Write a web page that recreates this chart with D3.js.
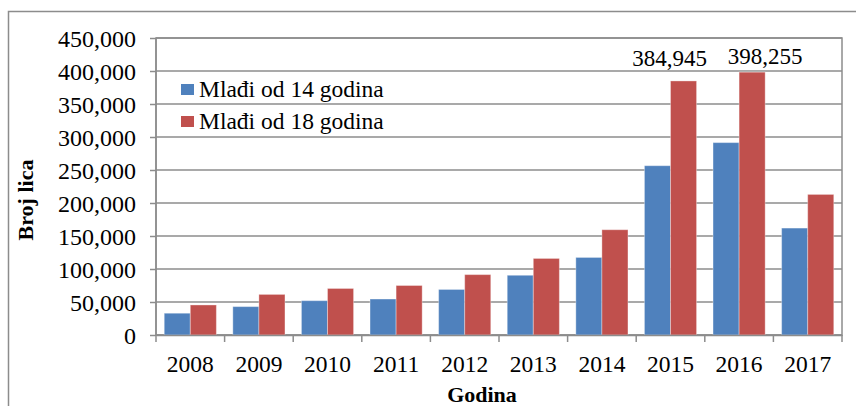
<!DOCTYPE html>
<html>
<head>
<meta charset="utf-8">
<script src="https://cdn.jsdelivr.net/npm/d3@7"></script>
<style>
  body { margin: 0; background: #fff; }
</style>
</head>
<body>
<div id="chart"></div>
<script>
var years = ["2008", "2009", "2010", "2011", "2012", "2013", "2014", "2015", "2016", "2017"];
var under14 = [33000, 43000, 52000, 54500, 69000, 90500, 117500, 256500, 291500, 162000];
var under18 = [45500, 61500, 70500, 75000, 91500, 116000, 159500, 384945, 398255, 213000];
var seriesNames = ["Mlađi od 14 godina", "Mlađi od 18 godina"];
var seriesColors = ["#4F81BD", "#C0504D"];
var yTicks = [0, 50000, 100000, 150000, 200000, 250000, 300000, 350000, 400000, 450000];
var labelledYears = ["2015", "2016"];

var FONT = "'Liberation Serif', 'Times New Roman', serif";
var width = 856, height = 406;
var margin = {top: 38, right: 14, bottom: 71, left: 156};
var innerW = width - margin.left - margin.right;
var innerH = height - margin.top - margin.bottom;

var svg = d3.select("#chart").append("svg")
    .attr("width", width)
    .attr("height", height)
    .attr("font-family", FONT);

// outer chart frame (cut off on right and bottom)
svg.append("rect")
    .attr("x", 8.5).attr("y", 11.5)
    .attr("width", width + 20).attr("height", height + 20)
    .style("fill", "none")
    .style("stroke", "#8c8c8c")
    .style("stroke-width", 1.5);

var g = svg.append("g").attr("transform", "translate(" + margin.left + "," + margin.top + ")");

var x = d3.scaleBand().domain(years).range([0, innerW]).paddingInner(0.24).paddingOuter(0.12);
var x1 = d3.scaleBand().domain([0, 1]).range([0, x.bandwidth()]);
var y = d3.scaleLinear().domain([0, 450000]).range([innerH, 0]);

var fmt = d3.format(",");

// gridlines
g.selectAll("line.grid")
    .data(yTicks)
    .enter().append("line")
    .attr("class", "grid")
    .attr("x1", 0).attr("x2", innerW)
    .attr("y1", function(d) { return y(d); })
    .attr("y2", function(d) { return y(d); })
    .style("stroke", "#8c8c8c")
    .style("stroke-width", 1.5);

// plot area border
g.append("rect")
    .attr("width", innerW).attr("height", innerH)
    .style("fill", "none")
    .style("stroke", "#8c8c8c")
    .style("stroke-width", 1.5);

// bars
var data = years.map(function(yr, i) { return {year: yr, values: [under14[i], under18[i]]}; });

var groups = g.selectAll("g.year")
    .data(data)
    .enter().append("g")
    .attr("transform", function(d) { return "translate(" + x(d.year) + ",0)"; });

groups.selectAll("rect")
    .data(function(d) { return d.values.map(function(v, s) { return {s: s, v: v}; }); })
    .enter().append("rect")
    .attr("x", function(d) { return x1(d.s); })
    .attr("width", x1.bandwidth())
    .attr("y", function(d) { return y(d.v); })
    .attr("height", function(d) { return innerH - y(d.v); })
    .style("fill", function(d) { return seriesColors[d.s]; })
    .style("stroke", "#ffffff")
    .style("stroke-opacity", 0.35)
    .style("stroke-width", 1);

// value labels on the peak years (nudged like the original)
groups.filter(function(d) { return labelledYears.indexOf(d.year) >= 0; })
    .append("text")
    .attr("x", function(d) { return x1(1) + x1.bandwidth() / 2 + (d.year === "2016" ? 13 : -14); })
    .attr("y", function(d) { return y(d.values[1]) - (d.year === "2016" ? 8 : 15); })
    .attr("text-anchor", "middle")
    .style("font-family", FONT)
    .style("font-size", "23px")
    .text(function(d) { return fmt(d.values[1]); });

// y axis
var yAxis = g.append("g")
    .call(d3.axisLeft(y).tickValues(yTicks).tickSize(6).tickPadding(14).tickFormat(fmt));
yAxis.attr("font-family", FONT);
yAxis.select(".domain").attr("d", "M0," + innerH + "V0").style("stroke", "#8c8c8c").style("stroke-width", 1.5);
yAxis.selectAll(".tick line").style("stroke", "#8c8c8c").style("stroke-width", 1.5);
yAxis.selectAll(".tick text").style("font-family", FONT).style("font-size", "24px").attr("dy", "0.34em");

// x axis
var xAxis = g.append("g")
    .attr("transform", "translate(0," + innerH + ")")
    .call(d3.axisBottom(x).tickSize(0).tickPadding(20));
xAxis.attr("font-family", FONT);
xAxis.select(".domain").style("stroke", "#8c8c8c").style("stroke-width", 1.5);
xAxis.selectAll(".tick text").style("font-family", FONT).style("font-size", "23.5px");
xAxis.selectAll("line.sep")
    .data(d3.range(years.length + 1))
    .enter().append("line")
    .attr("class", "sep")
    .attr("x1", function(i) { return i * innerW / years.length; })
    .attr("x2", function(i) { return i * innerW / years.length; })
    .attr("y1", 0).attr("y2", 7)
    .style("stroke", "#8c8c8c")
    .style("stroke-width", 1.5);

// axis titles
svg.append("text")
    .attr("transform", "translate(33," + 200 + ") rotate(-90)")
    .attr("text-anchor", "middle")
    .style("font-family", FONT)
    .style("font-size", "22px")
    .style("font-weight", "bold")
    .text("Broj lica");

svg.append("text")
    .attr("x", 482).attr("y", 402)
    .attr("text-anchor", "middle")
    .style("font-family", FONT)
    .style("font-size", "22px")
    .style("font-weight", "bold")
    .text("Godina");

// legend
var legend = g.append("g").attr("transform", "translate(25,46)");
var items = legend.selectAll("g")
    .data(seriesNames)
    .enter().append("g")
    .attr("transform", function(d, i) { return "translate(0," + (i * 32) + ")"; });
items.append("rect")
    .attr("width", 13).attr("height", 11)
    .style("fill", function(d, i) { return seriesColors[i]; });
items.append("text")
    .attr("x", 18).attr("y", 13)
    .style("font-family", FONT)
    .style("font-size", "23.5px")
    .text(function(d) { return d; });
</script>
</body>
</html>
